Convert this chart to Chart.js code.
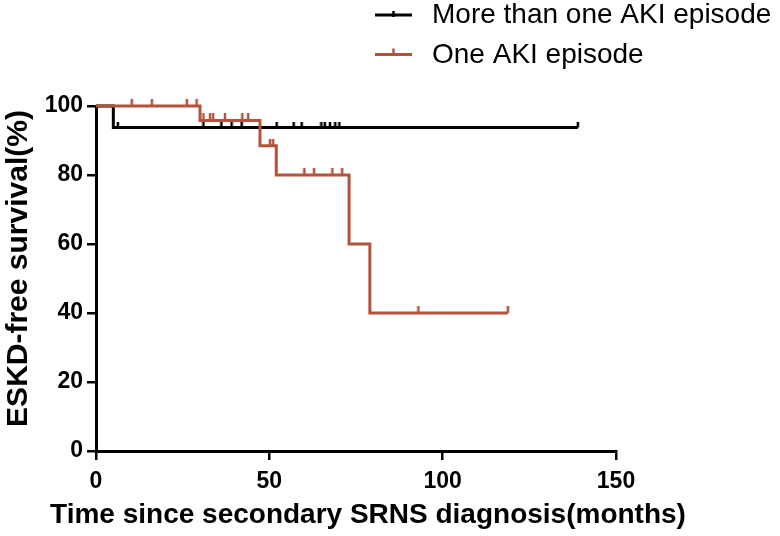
<!DOCTYPE html>
<html>
<head>
<meta charset="utf-8">
<script src="https://cdn.jsdelivr.net/npm/chart.js@4.4.1/dist/chart.umd.min.js"></script>
<style>
  html, body { margin: 0; padding: 0; background: #fff; }
  canvas { display: block; }
</style>
</head>
<body>
<canvas id="km" width="780" height="536"></canvas>
<script>
// =========================
// DATA
// =========================
const seriesNames = ['More than one AKI episode', 'One AKI episode'];
const xTitle = 'Time since secondary SRNS diagnosis(months)';
const yTitle = 'ESKD-free survival(%)';

// step curve: time of each event (months) and survival after it (%)
const moreTimes = [0, 5, 139];
const moreSurv  = [100, 93.75, 93.75];
const oneTimes  = [0, 30, 47.3, 52, 73, 79, 118.8];
const oneSurv   = [100, 95.83, 88.5, 80, 60, 40, 40];

// censored subjects
const moreCensorT = [6.3, 31, 36.2, 39.1, 42, 52.1, 57, 59.3, 65, 66, 67.5, 69, 70.2, 139];
const moreCensorS = [93.75, 93.75, 93.75, 93.75, 93.75, 93.75, 93.75, 93.75, 93.75, 93.75, 93.75, 93.75, 93.75, 93.75];
const oneCensorT  = [10.3, 16.1, 26.2, 29.0, 31.0, 32.9, 33.8, 37.2, 42.2, 43.9, 50.2, 51.1, 60.1, 62.9, 68.2, 71.0, 93, 118.8];
const oneCensorS  = [100, 100, 100, 100, 95.83, 95.83, 95.83, 95.83, 95.83, 95.83, 88.5, 88.5, 80, 80, 80, 80, 40, 40];

const xTicks = [0, 50, 100, 150];
const yTicks = [0, 20, 40, 60, 80, 100];

const BLACK = '#000000';
const RED = '#b4533c';
const FONT = "'Liberation Sans', Arial, sans-serif";

// =========================
// HELPERS
// =========================
function toPoints(xs, ys) {
    return xs.map((x, i) => ({ x: x, y: ys[i] }));
}

// small vertical tick that stands on the curve
function makeTick(color, up, down) {
    const c = document.createElement('canvas');
    const h = Math.max(up, down);
    c.width = 4;
    c.height = h * 2;
    const g = c.getContext('2d');
    g.strokeStyle = color;
    g.lineWidth = 2.5;
    g.beginPath();
    g.moveTo(2, h - up);
    g.lineTo(2, h + down);
    g.stroke();
    return c;
}

// legend drawn above the plot, one row per group
const legendRows = [
    { text: seriesNames[0], color: BLACK, y: 15, up: 4, down: 2 },
    { text: seriesNames[1], color: RED, y: 54.5, up: 6, down: 0 }
];

// legend + axis titles (titles wider than the plot, so drawn here)
const kmDecor = {
    id: 'kmDecor',
    afterDraw(chart) {
        const ctx = chart.ctx;
        ctx.save();
        legendRows.forEach(row => {
            ctx.strokeStyle = row.color;
            ctx.lineWidth = 3;
            ctx.beginPath();
            ctx.moveTo(375, row.y);
            ctx.lineTo(412, row.y);
            ctx.stroke();
            ctx.lineWidth = 2.5;
            ctx.beginPath();
            ctx.moveTo(393.5, row.y - row.up);
            ctx.lineTo(393.5, row.y + row.down);
            ctx.stroke();
            ctx.fillStyle = '#000';
            ctx.font = '28px ' + FONT;
            ctx.textBaseline = 'middle';
            ctx.textAlign = 'left';
            ctx.fillText(row.text, 432, row.y + 0.5);
        });

        ctx.fillStyle = '#000';
        ctx.font = 'bold 28px ' + FONT;
        ctx.textAlign = 'center';
        ctx.textBaseline = 'middle';
        ctx.fillText(xTitle, 368, 515);

        ctx.translate(19, 268.5);
        ctx.rotate(-Math.PI / 2);
        ctx.font = 'bold 30px ' + FONT;
        ctx.fillText(yTitle, 0, 0);
        ctx.restore();
    }
};

// =========================
// CHART
// =========================
const stepStyle = {
    type: 'line',
    showLine: true,
    stepped: 'before',
    pointRadius: 0,
    borderWidth: 3,
    fill: false,
    clip: false
};

const censorStyle = {
    type: 'scatter',
    showLine: false,
    pointRadius: 3,
    clip: false
};

new Chart(document.getElementById('km'), {
    type: 'scatter',
    data: {
        datasets: [
            Object.assign({}, stepStyle, {
                label: seriesNames[1],
                data: toPoints(oneTimes, oneSurv),
                borderColor: RED,
                order: 0
            }),
            Object.assign({}, censorStyle, {
                label: seriesNames[1] + ' censored',
                data: toPoints(oneCensorT, oneCensorS),
                pointStyle: makeTick(RED, 7, 0),
                order: 1
            }),
            Object.assign({}, stepStyle, {
                label: seriesNames[0],
                data: toPoints(moreTimes, moreSurv),
                borderColor: BLACK,
                order: 2
            }),
            Object.assign({}, censorStyle, {
                label: seriesNames[0] + ' censored',
                data: toPoints(moreCensorT, moreCensorS),
                pointStyle: makeTick(BLACK, 6, 0),
                order: 3
            })
        ]
    },
    options: {
        responsive: false,
        animation: false,
        events: [],
        layout: { padding: { top: 106, right: 164, left: 0, bottom: 0 } },
        plugins: {
            legend: { display: false },
            tooltip: { enabled: false }
        },
        scales: {
            x: {
                type: 'linear',
                min: 0,
                max: 150,
                afterFit: s => { s.height = 85; },
                afterBuildTicks: s => { s.ticks = xTicks.map(v => ({ value: v })); },
                grid: { drawOnChartArea: false, drawTicks: true, tickLength: 9, color: BLACK, lineWidth: 2.5 },
                border: { color: BLACK, width: 3 },
                ticks: { color: BLACK, padding: 8, font: { family: FONT, size: 23, weight: 'bold' } }
            },
            y: {
                type: 'linear',
                min: 0,
                max: 100,
                afterFit: s => { s.width = 96; },
                afterBuildTicks: s => { s.ticks = yTicks.map(v => ({ value: v })); },
                grid: { drawOnChartArea: false, drawTicks: true, tickLength: 9, color: BLACK, lineWidth: 2.5 },
                border: { color: BLACK, width: 3 },
                ticks: { color: BLACK, padding: 4, font: { family: FONT, size: 23, weight: 'bold' } }
            }
        }
    },
    plugins: [kmDecor]
});
</script>
</body>
</html>
